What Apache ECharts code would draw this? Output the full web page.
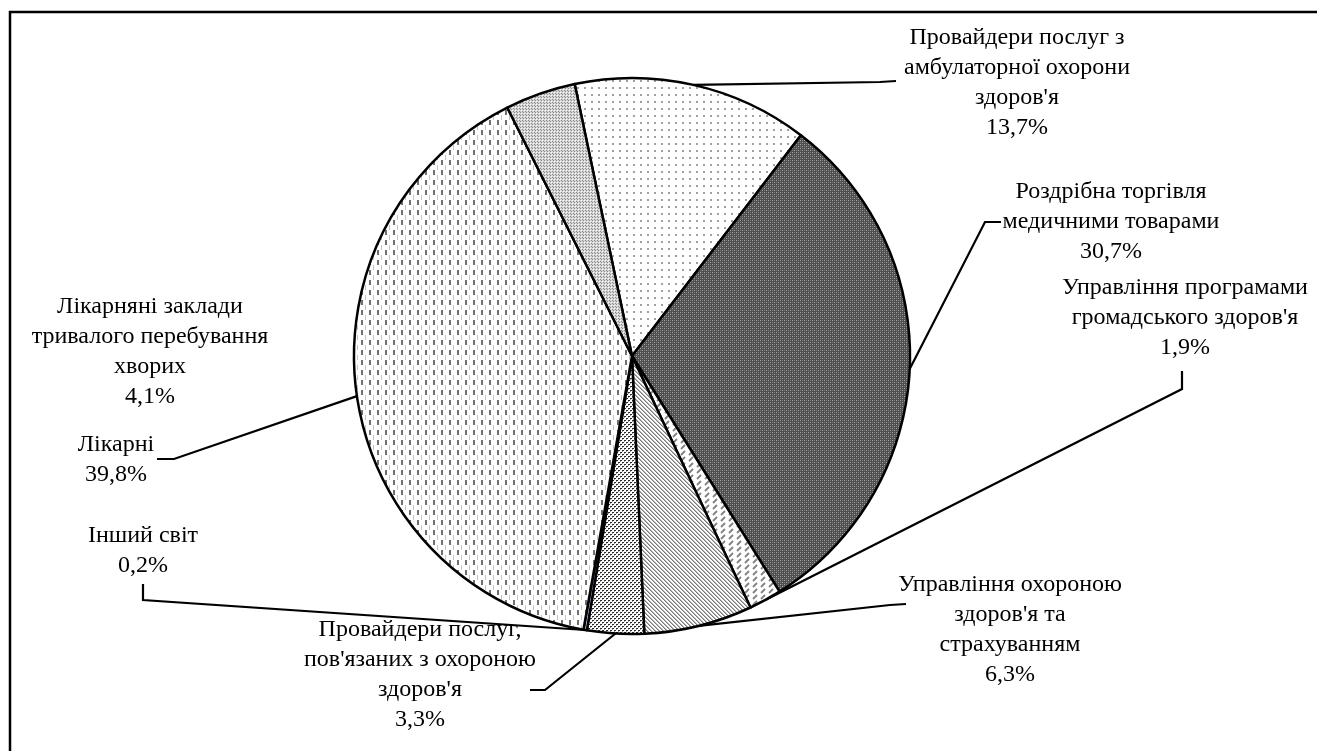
<!DOCTYPE html>
<html>
<head>
<meta charset="utf-8">
<script src="https://cdn.jsdelivr.net/npm/echarts@6/dist/echarts.min.js"></script>
<style>
    html, body { margin: 0; padding: 0; background: #fff; }
    #chart { width: 1317px; height: 751px; }
</style>
</head>
<body>
<div id="chart"></div>
<script>
// дані діаграми
const categories = [
    'Провайдери послуг з\nамбулаторної охорони\nздоров\'я',
    'Роздрібна торгівля\nмедичними товарами',
    'Управління програмами\nгромадського здоров\'я',
    'Управління охороною\nздоров\'я та\nстрахуванням',
    'Провайдери послуг,\nпов\'язаних з охороною\nздоров\'я',
    'Інший світ',
    'Лікарні',
    'Лікарняні заклади\nтривалого перебування\nхворих'
];
const values = [13.7, 30.7, 1.9, 6.3, 3.3, 0.2, 39.8, 4.1];

// розташування підписів (центр x, верх y) та злам виносок
const labelPos = [
    { x: 1017, y: 23, bend: [880, 82], end: [896, 81] },
    { x: 1111, y: 177, bend: [985, 222], end: [1001, 222] },
    { x: 1185, y: 273, bend: [1182, 389], end: [1182, 371] },
    { x: 1010, y: 570, bend: [890, 605], end: [906, 604] },
    { x: 420, y: 615, bend: [545, 690], end: [530, 690] },
    { x: 143, y: 521, bend: [143, 600], end: [143, 584] },
    { x: 116, y: 430, bend: [174, 459], end: [157, 459] },
    { x: 150, y: 292, bend: null, end: null }
];

// штрихування секторів
const tile = (w, h, draw) => {
    const c = document.createElement('canvas');
    c.width = w;
    c.height = h;
    const ctx = c.getContext('2d');
    draw(ctx);
    return { image: c, repeat: 'repeat' };
};

const fills = [
    tile(7, 7, ctx => {
        ctx.fillStyle = '#fff'; ctx.fillRect(0, 0, 7, 7);
        ctx.fillStyle = '#a0a0a0'; ctx.fillRect(3, 3, 2, 2);
    }),
    tile(4, 4, ctx => {
        ctx.fillStyle = '#4e4e4e'; ctx.fillRect(0, 0, 4, 4);
        ctx.fillStyle = '#a8a8a8'; ctx.fillRect(0, 0, 1, 1); ctx.fillRect(2, 2, 1, 1);
        ctx.fillStyle = '#7c7c7c'; ctx.fillRect(2, 0, 1, 1); ctx.fillRect(0, 2, 1, 1);
    }),
    tile(8, 6, ctx => {
        ctx.fillStyle = '#fff'; ctx.fillRect(0, 0, 8, 6);
        ctx.strokeStyle = '#808080'; ctx.lineWidth = 1.8;
        ctx.beginPath(); ctx.moveTo(1, 5); ctx.lineTo(5, 1); ctx.stroke();
    }),
    tile(4, 4, ctx => {
        ctx.fillStyle = '#fff'; ctx.fillRect(0, 0, 4, 4);
        for (let i = 0; i < 4; i++) {
            ctx.fillStyle = '#7a7a7a'; ctx.fillRect(i, i, 1, 1);
            ctx.fillStyle = '#b4b4b4'; ctx.fillRect((i + 1) % 4, i, 1, 1);
        }
    }),
    tile(4, 4, ctx => {
        ctx.fillStyle = '#fff'; ctx.fillRect(0, 0, 4, 4);
        ctx.fillStyle = '#2a2a2a'; ctx.fillRect(0, 0, 2, 1); ctx.fillRect(2, 2, 2, 1);
        ctx.fillStyle = '#999'; ctx.fillRect(0, 1, 1, 1); ctx.fillRect(2, 3, 1, 1);
    }),
    '#c4c8ff',
    tile(8, 10, ctx => {
        ctx.fillStyle = '#fff'; ctx.fillRect(0, 0, 8, 10);
        ctx.fillStyle = '#707070'; ctx.fillRect(1, 0, 2, 5);
        ctx.fillStyle = '#c4c4c4'; ctx.fillRect(5, 5, 1, 5);
    }),
    tile(3, 3, ctx => {
        ctx.fillStyle = '#d4d4d4'; ctx.fillRect(0, 0, 3, 3);
        ctx.fillStyle = '#8c8c8c'; ctx.fillRect(0, 0, 1, 1); ctx.fillRect(1, 1, 1, 1);
        ctx.fillStyle = '#fff'; ctx.fillRect(2, 2, 1, 1);
    })
];

const myChart = echarts.init(document.getElementById('chart'));
myChart.setOption({
    backgroundColor: '#fff',
    animation: false,
    graphic: [{
        type: 'rect',
        shape: { x: 10, y: 12, width: 1400, height: 800 },
        style: { fill: 'none', stroke: '#000', lineWidth: 2.5 },
        silent: true
    }],
    series: [{
        type: 'pie',
        center: [632, 356],
        radius: 278,
        startAngle: 101.9,
        clockwise: true,
        avoidLabelOverlap: false,
        emphasis: { disabled: true },
        itemStyle: { borderColor: '#000', borderWidth: 2.5 },
        label: {
            show: true,
            position: 'outside',
            color: '#000',
            fontFamily: 'Liberation Serif',
            fontSize: 24,
            lineHeight: 30,
            formatter: p => p.name + '\n' + p.value.toFixed(1).replace('.', ',') + '%'
        },
        labelLine: {
            show: true,
            length: 20,
            length2: 20,
            lineStyle: { color: '#000', width: 2.2 }
        },
        labelLayout: function (params) {
            const pos = labelPos[params.dataIndex];
            const res = { x: pos.x, y: pos.y, align: 'center', verticalAlign: 'top' };
            if (pos.bend && params.labelLinePoints) {
                res.labelLinePoints = [params.labelLinePoints[0], pos.bend, pos.end];
            }
            return res;
        },
        data: categories.map((name, i) => ({
            name: name,
            value: values[i],
            itemStyle: { color: fills[i] },
            labelLine: { show: labelPos[i].bend !== null }
        }))
    }]
});
</script>
</body>
</html>
